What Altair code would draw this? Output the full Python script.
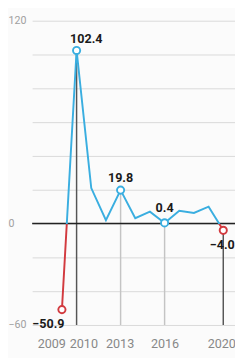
import altair as alt
import pandas as pd

years = [2009, 2010, 2011, 2012, 2013, 2014, 2015, 2016, 2017, 2018, 2019, 2020]
values = [-50.9, 102.4, 21.0, 2.0, 19.8, 3.2, 7.0, 0.4, 7.6, 6.3, 10.0, -4.0]
axis_years = [2009, 2010, 2013, 2016, 2020]
marked_years = [2009, 2010, 2013, 2016, 2020]
drop_years = [2010, 2013, 2016, 2020]
dark_drop_years = [2010, 2020]
y_grid = [-60, -40, -20, 0, 20, 40, 60, 80, 100, 120]
y_labelled = [120, 0, -60]
baseline = [0]

BLUE = "#3aaee0"
RED = "#d23a3f"

df = pd.DataFrame({"year": years, "value": values})

vmax, vmin = max(values), min(values)
split = vmax / (vmax - vmin)

lab_test = " || ".join(f"datum.value == {v}" for v in y_labelled)

x_enc = alt.X(
    "year:Q",
    scale=alt.Scale(domain=[2006.97, 2020.8], nice=False, zero=False),
    axis=alt.Axis(
        values=axis_years, format="d", grid=False, ticks=False, domain=False,
        labelColor="#888", labelFontSize=13, labelFont="Roboto", labelPadding=13,
        labelFlush=False, labelOverlap=False, title=None,
        labelOffset={"condition": [
            {"test": "datum.value == 2009", "value": -11},
            {"test": "datum.value == 2010", "value": 7},
            {"test": "datum.value == 2013", "value": -1},
            {"test": "datum.value == 2020", "value": -2},
        ], "value": 0},
    ),
)
y_enc = alt.Y(
    "value:Q",
    scale=alt.Scale(domain=[-60, 120], nice=False),
    axis=alt.Axis(
        values=y_grid, labelExpr=f"({lab_test}) ? datum.label : ''",
        grid=True, gridColor="#d9d9d9", gridWidth=1, ticks=False, domain=False,
        labelOverlap=False, labelFlush=False,
        labelAlign="left", labelPadding=25, labelColor="#a0a0a0", labelFontSize=11,
        labelFont="Roboto", title=None,
    ),
)

base = alt.Chart(df)

drops = base.transform_filter(
    alt.FieldOneOfPredicate(field="year", oneOf=drop_years)
).mark_rule(strokeWidth=1.5).encode(
    x=x_enc, y=y_enc, y2=alt.datum(-60),
    color=alt.condition(
        alt.FieldOneOfPredicate(field="year", oneOf=dark_drop_years),
        alt.value("#555555"), alt.value("#c4c4c4"),
    ),
)

zero = alt.Chart(pd.DataFrame({"value": baseline})).mark_rule(
    color="#222222", strokeWidth=1.6
).encode(y=y_enc)

line = base.mark_line(
    strokeWidth=2,
    color=alt.Gradient(
        gradient="linear", x1=0, x2=0, y1=0, y2=1,
        stops=[alt.GradientStop(offset=split, color=BLUE),
               alt.GradientStop(offset=split, color=RED)],
    ),
).encode(x=x_enc, y=y_enc)

points = base.transform_filter(
    alt.FieldOneOfPredicate(field="year", oneOf=marked_years)
).mark_point(shape="circle", size=55, strokeWidth=2, fill="white", fillOpacity=1, opacity=1).encode(
    x=x_enc, y=y_enc,
    stroke=alt.condition("datum.value < 0", alt.value(RED), alt.value(BLUE)),
)

def label(year, dx, dy):
    return base.transform_filter(alt.datum.year == year).mark_text(
        font="Roboto", fontSize=13, fontWeight="bold", color="#1a1a1a",
        dx=dx, dy=dy,
    ).encode(x=x_enc, y=y_enc, text=alt.Text("value:Q", format=".1f"))

labels = [label(2010, 10, -12), label(2013, 0, -12), label(2016, 0, -15),
          label(2020, -1, 15), label(2009, -14, 15)]

chart = alt.layer(drops, zero, line, points, *labels).properties(
    width=210, height=315, autosize="none",
    padding={"left": 25, "top": 7, "right": 0, "bottom": 28},
    background="#fbfbfb",
).configure_view(stroke=None)

chart.save("out.html", embed_options={"renderer": "svg", "actions": False})
